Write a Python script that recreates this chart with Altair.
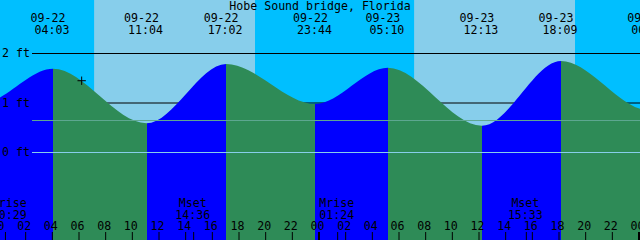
import altair as alt
import pandas as pd

# ---------------- data ----------------
title_text = "Hobe Sound bridge, Florida"

# tide extremes (date, time, level in ft); first two and last one lie outside the view
tide_dates = ["09-21", "09-21", "09-22", "09-22", "09-22", "09-22", "09-23", "09-23", "09-23", "09-24", "09-24"]
tide_times = ["15:55", "22:40", "04:03", "11:04", "17:02", "23:44", "05:10", "12:13", "18:09", "00:48", "06:17"]
tide_levels = [1.75, 0.99, 1.69, 0.59, 1.79, 0.98, 1.71, 0.54, 1.85, 0.85, 1.72]

# daylight
sun_dates = ["09-22", "09-23"]
sunrise_times = ["07:08", "07:08"]
sunset_times = ["19:12", "19:12"]

# moon events
moon_names = ["Mrise", "Mset", "Mrise", "Mset"]
moon_dates = ["09-22", "09-22", "09-23", "09-23"]
moon_times = ["00:29", "14:36", "01:24", "15:33"]

# reference levels (ft)
grid_levels = [1, 2]
grid_labels = ["0 ft", "1 ft", "2 ft"]
grid_label_levels = [0, 1, 2]
mean_level = 0.646
zero_level = 0.0

# "now" marker
now_date, now_time, now_level = "09-22", "06:12", 1.45

hour_ticks = list(range(0, 50, 2))

# ---------------- helpers ----------------
def hours(d, t):
    day = int(d[-2:]) - 22
    hh, mm = t.split(":")
    return day * 24 + int(hh) + int(mm) / 60.0

X0, X1 = 0.075, 48.075
Y0, Y1 = (152.5 - 240) / 49.5, 152.5 / 49.5
xs = alt.Scale(domain=[X0, X1], nice=False, zero=False)
ys = alt.Scale(domain=[Y0, Y1], nice=False, zero=False)

BLUE, GREEN = "#0000FF", "#2E8B57"
FONT = "DejaVu Sans Mono"
FS = 11.6

tide = pd.DataFrame({
    "date": tide_dates, "time": tide_times, "lvl": tide_levels,
})
tide["h"] = [hours(d, t) for d, t in zip(tide_dates, tide_times)]
tide["base"] = Y0

h_first, h_last = tide["h"].iloc[0], tide["h"].iloc[-1]
stops = []
for i in range(len(tide) - 1):
    c = BLUE if tide_levels[i + 1] > tide_levels[i] else GREEN
    o0 = (tide["h"].iloc[i] - h_first) / (h_last - h_first)
    o1 = (tide["h"].iloc[i + 1] - h_first) / (h_last - h_first)
    stops.append({"offset": float(o0), "color": c})
    stops.append({"offset": float(o1), "color": c})
grad = {"gradient": "linear", "x1": 0, "x2": 1, "y1": 0, "y2": 0, "stops": stops}

days = pd.DataFrame({
    "start": [hours(d, t) for d, t in zip(sun_dates, sunrise_times)],
    "end": [hours(d, t) for d, t in zip(sun_dates, sunset_times)],
})

moon = pd.DataFrame({"name": moon_names, "time": moon_times})
moon["h"] = [hours(d, t) for d, t in zip(moon_dates, moon_times)]
moon["lh"] = moon["h"].clip(lower=0.85)

ticks = pd.DataFrame({"h": hour_ticks, "lab": [f"{h % 24:02d}" for h in hour_ticks]})
ticks["mid"] = [h % 24 == 0 for h in hour_ticks]

labels_vis = tide[(tide["h"] > -1) & (tide["h"] < 50)]

# ---------------- layers ----------------
bands = alt.Chart(days).mark_rect(color="#87CEEB").encode(
    x=alt.X("start:Q", scale=xs, axis=None), x2="end:Q",
    y=alt.value(0), y2=alt.value(240))

grid = alt.Chart(pd.DataFrame({"lvl": grid_levels})).mark_rule(
    color="black", strokeWidth=1).encode(
    y=alt.Y("lvl:Q", scale=ys, axis=None), x=alt.value(32), x2=alt.value(640))

area = alt.Chart(tide).mark_area(interpolate="monotone", color=grad, clip=True).encode(
    x=alt.X("h:Q", scale=xs, axis=None),
    y=alt.Y("lvl:Q", scale=ys, axis=None),
    y2="base:Q")

mean_line = alt.Chart(pd.DataFrame({"lvl": [mean_level]})).mark_rule(
    color="#5FA892", strokeWidth=1).encode(
    y=alt.Y("lvl:Q", scale=ys, axis=None), x=alt.value(32), x2=alt.value(640))

zero_line = alt.Chart(pd.DataFrame({"lvl": [zero_level]})).mark_rule(
    color="#87CEEB", strokeWidth=1).encode(
    y=alt.Y("lvl:Q", scale=ys, axis=None), x=alt.value(32), x2=alt.value(640))

now_pt = alt.Chart(pd.DataFrame({"h": [hours(now_date, now_time)], "lvl": [now_level]})).mark_point(
    shape="M-1,0L1,0M0,-1L0,1", size=70, color="black", strokeWidth=1, filled=False, opacity=1).encode(
    x=alt.X("h:Q", scale=xs, axis=None), y=alt.Y("lvl:Q", scale=ys, axis=None))

tick_reg = alt.Chart(ticks[~ticks["mid"]]).mark_rule(color="black", strokeWidth=1, clip=True).encode(
    x=alt.X("h:Q", scale=xs, axis=None), y=alt.value(232), y2=alt.value(240))
tick_mid = alt.Chart(ticks[ticks["mid"]]).mark_rule(color="black", strokeWidth=2, clip=True).encode(
    x=alt.X("h:Q", scale=xs, axis=None), y=alt.value(232), y2=alt.value(240))
tick_moon = alt.Chart(moon).mark_rule(color="black", strokeWidth=1, clip=True).encode(
    x=alt.X("h:Q", scale=xs, axis=None), y=alt.value(232), y2=alt.value(240))

tick_text = alt.Chart(ticks).mark_text(font=FONT, fontSize=FS, color="black", align="center",
                                       baseline="alphabetic", dx=-1.5).encode(
    x=alt.X("h:Q", scale=xs, axis=None), y=alt.value(229.5), text="lab:N")

moon_name = alt.Chart(moon).mark_text(font=FONT, fontSize=FS, color="black", align="center",
                                      baseline="alphabetic", dx=-1).encode(
    x=alt.X("lh:Q", scale=xs, axis=None), y=alt.value(206.5), text="name:N")
moon_time = alt.Chart(moon).mark_text(font=FONT, fontSize=FS, color="black", align="center",
                                      baseline="alphabetic", dx=-1).encode(
    x=alt.X("lh:Q", scale=xs, axis=None), y=alt.value(218.5), text="time:N")

tide_date = alt.Chart(labels_vis).mark_text(font=FONT, fontSize=FS, color="black", align="center",
                                            baseline="alphabetic", dx=-5).encode(
    x=alt.X("h:Q", scale=xs, axis=None), y=alt.value(22), text="date:N")
tide_time = alt.Chart(labels_vis).mark_text(font=FONT, fontSize=FS, color="black", align="center",
                                            baseline="alphabetic", dx=-1).encode(
    x=alt.X("h:Q", scale=xs, axis=None), y=alt.value(34.3), text="time:N")

grid_text = alt.Chart(pd.DataFrame({"lvl": grid_label_levels, "lab": grid_labels})).mark_text(
    font=FONT, fontSize=FS, color="black", align="left", baseline="middle", dy=0.5).encode(
    x=alt.value(2), y=alt.Y("lvl:Q", scale=ys, axis=None), text="lab:N")

title = alt.Chart(pd.DataFrame({"t": [title_text]})).mark_text(
    font=FONT, fontSize=FS, color="black", align="center", baseline="alphabetic").encode(
    x=alt.value(320), y=alt.value(9.5), text="t:N")

chart = alt.layer(
    bands, grid, area, mean_line, zero_line, now_pt,
    tick_reg, tick_mid, tick_moon, tick_text, moon_name, moon_time,
    tide_date, tide_time, grid_text, title
).properties(
    width=640, height=240, background="#00BFFF", padding=0,
    autosize=alt.AutoSizeParams(type="none")
).configure_view(stroke="transparent")

chart.save("out.html", embed_options={"renderer": "svg", "actions": False})
